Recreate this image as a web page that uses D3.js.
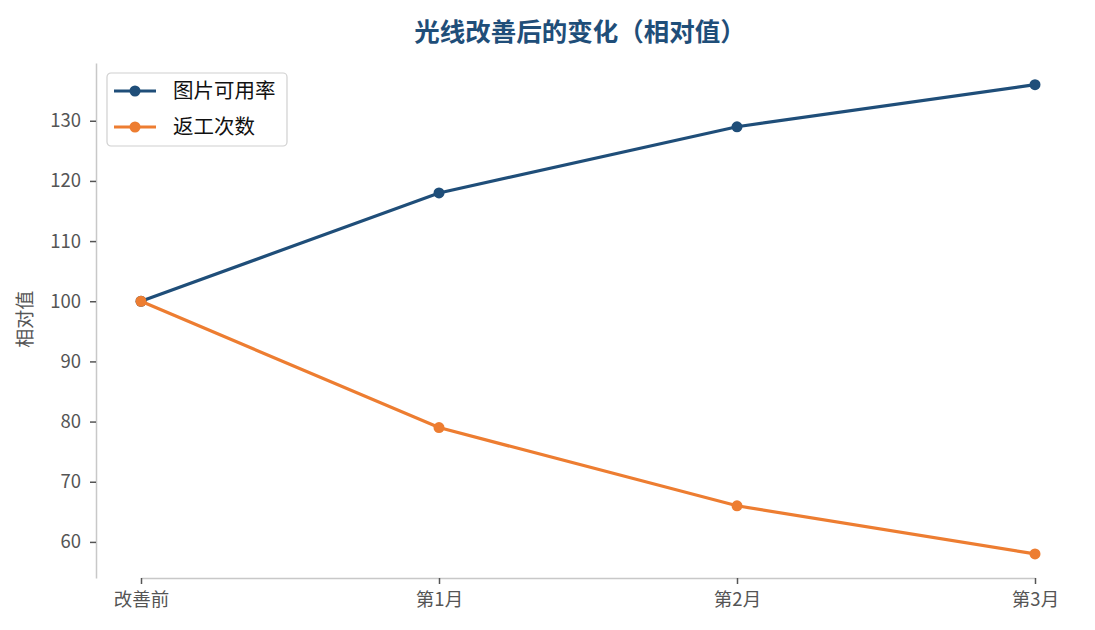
<!DOCTYPE html>
<html>
<head>
<meta charset="utf-8">
<script src="https://cdn.jsdelivr.net/npm/d3@7"></script>
<style>
  body { margin: 0; background: #fff; }
  svg { font-family: "Noto Sans CJK SC", "Noto Sans", sans-serif; }
</style>
</head>
<body>
<svg width="1095" height="630"></svg>
<script>
// Data
const categories = ['改善前', '第1月', '第2月', '第3月']
const seriesNames = ['图片可用率', '返工次数']
const usableRate = [100, 118, 129, 136]
const reworkCount = [100, 79, 66, 58]
const yTicks = [60, 70, 80, 90, 100, 110, 120, 130]
const colors = ['#1f4e79', '#ed7d31']

const svg = d3.select('svg')
const margin = {top: 63, right: 15, bottom: 52, left: 96}
const width = 1095 - margin.left - margin.right
const height = 630 - margin.top - margin.bottom
const group = svg.append('g')
  .attr('transform', 'translate(' + margin.left + ',' + margin.top + ')')

// Scales
const x = d3.scalePoint().domain(categories).range([45, width - 45])
const y = d3.scaleLinear().domain([54, 139.6]).range([height, 0])

// Title
svg.append('text')
  .attr('x', 580).attr('y', 32)
  .attr('dy', '0.35em')
  .attr('text-anchor', 'middle')
  .attr('font-size', 25.5).attr('font-weight', 'bold')
  .attr('fill', '#1f4e79')
  .text('光线改善后的变化（相对值）')

// Y label
svg.append('text')
  .attr('transform', 'translate(25,' + (margin.top + y(100) + 18) + ') rotate(-90)')
  .attr('text-anchor', 'middle')
  .attr('dy', '0.35em')
  .attr('font-size', 19).attr('fill', '#555')
  .text('相对值')

// Axes
const xAxis = group.append('g')
  .attr('transform', 'translate(0,' + height + ')')
  .call(d3.axisBottom(x).tickSize(6).tickSizeOuter(0).tickPadding(9))
const yAxis = group.append('g')
  .call(d3.axisLeft(y).tickValues(yTicks).tickSize(6).tickSizeOuter(0).tickPadding(9))

;[xAxis, yAxis].forEach(ax => {
  ax.select('.domain').attr('stroke', '#c8c8c8').attr('stroke-width', 1.5)
  ax.selectAll('.tick line').attr('stroke', '#555').attr('stroke-width', 1.5)
  ax.selectAll('.tick text').attr('fill', '#555').attr('font-size', 18.5)
    .attr('font-family', '"Noto Sans CJK SC", sans-serif')
})

// Lines
const allSeries = [usableRate, reworkCount]
const line = d3.line().x((d, i) => x(categories[i])).y(d => y(d))
allSeries.forEach((values, s) => {
  group.append('path')
    .datum(values)
    .attr('fill', 'none')
    .attr('stroke', colors[s])
    .attr('stroke-width', 3.2)
    .attr('d', line)
  group.selectAll('.pt' + s)
    .data(values)
    .enter()
    .append('circle')
      .attr('cx', (d, i) => x(categories[i]))
      .attr('cy', d => y(d))
      .attr('r', 5.5)
      .attr('fill', colors[s])
})

// Legend
const legend = svg.append('g').attr('transform', 'translate(107,73)')
legend.append('rect')
  .attr('width', 180).attr('height', 73)
  .attr('rx', 4)
  .attr('fill', '#fff').attr('stroke', '#d0d0d0').attr('stroke-width', 1.2)
seriesNames.forEach((name, i) => {
  const row = legend.append('g').attr('transform', 'translate(0,' + (18 + i * 36) + ')')
  row.append('line')
    .attr('x1', 7).attr('x2', 49)
    .attr('stroke', colors[i]).attr('stroke-width', 3)
  row.append('circle').attr('cx', 28).attr('r', 5.5).attr('fill', colors[i])
  row.append('text')
    .attr('x', 66).attr('dy', '0.35em')
    .attr('font-size', 20.5).attr('fill', '#111')
    .text(name)
})
</script>
</body>
</html>
